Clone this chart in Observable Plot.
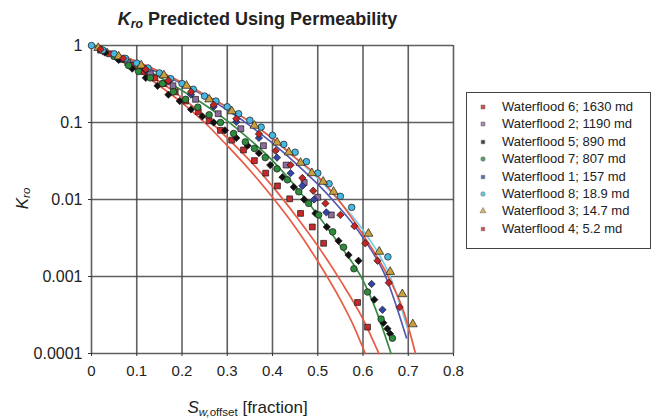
<!DOCTYPE html>
<html><head><meta charset="utf-8">
<script src="https://cdn.jsdelivr.net/npm/d3@7"></script>
<script src="https://cdn.jsdelivr.net/npm/@observablehq/plot@0.6"></script>
<style>
body{margin:0;background:#fff;font-family:"Liberation Sans",Arial,sans-serif;color:#222;}
#wrap{position:relative;width:659px;height:419px;overflow:hidden;background:#fff;}
#chart{position:absolute;left:0;top:0;}
.title{position:absolute;left:0;width:515px;top:10px;text-align:center;font-weight:bold;font-size:18px;line-height:18px;}
.xlab{position:absolute;left:0;width:495px;top:399px;text-align:center;font-size:17px;line-height:17px;}
.ylab{position:absolute;left:-28px;top:190px;width:100px;text-align:center;font-size:17px;line-height:17px;transform:rotate(-90deg);}
sub{font-size:0.68em;vertical-align:-0.25em;line-height:0;}
.legend{position:absolute;left:466px;top:92px;width:183px;height:150px;border:1.5px solid #444;padding-top:5px;box-sizing:content-box;}
.row{height:17.4px;line-height:17.4px;font-size:13px;white-space:nowrap;position:relative;}
.row svg{position:absolute;left:11px;top:4px;}
.row span{position:absolute;left:35px;}
.yax text{font-size:16px;}
</style></head>
<body><div id="wrap">
<div id="chart"></div>
<div class="title"><i>K<sub>ro</sub></i> Predicted Using Permeability</div>
<div class="xlab"><i>S<sub>w,</sub></i><sub>offset</sub> [fraction]</div>
<div class="ylab"><i>K<sub>ro</sub></i></div>
<div class="legend" id="legend"></div>
</div>
<script>
// Axis ticks
const xTicks=[0,0.1,0.2,0.3,0.4,0.5,0.6,0.7,0.8];
const xTickLabels=["0","0.1","0.2","0.3","0.4","0.5","0.6","0.7","0.8"];
const yTicks=[1,0.1,0.01,0.001,0.0001];
const yTickLabels=["1","0.1","0.01","0.001","0.0001"];

// Series (measured points)
const seriesNames=["Waterflood 6; 1630 md","Waterflood 2; 1190 md","Waterflood 5; 890 md","Waterflood 7; 807 md","Waterflood 1; 157 md","Waterflood 8; 18.9 md","Waterflood 3; 14.7 md","Waterflood 4; 5.2 md"];
const seriesColors=["#c8282a","#8c6c9c","#111111","#2e8a3c","#3444a8","#48b8e0","#c8a040","#c42424"];
const seriesSymbols=["square","square","diamond2","circle","diamond2","circle","triangle","diamond2"];

const wf6_x=[0.02,0.04,0.065,0.09,0.115,0.14,0.16,0.185,0.208,0.236,0.26,0.285,0.31,0.336,0.36,0.385,0.411,0.438,0.462,0.488,0.513,0.588,0.61];
const wf6_k=[0.87,0.78,0.66,0.55,0.46,0.38,0.32,0.25,0.19,0.138,0.105,0.079,0.059,0.044,0.032,0.022,0.015,0.0102,0.0066,0.0044,0.0027,0.00046,0.00022];
const wf2_x=[0.03,0.08,0.13,0.18,0.23,0.28,0.33,0.38,0.43,0.47,0.5,0.53];
const wf2_k=[0.83,0.6,0.43,0.3,0.2,0.13,0.083,0.05,0.028,0.0166,0.0107,0.0063];
const wf5_x=[0.03,0.06,0.09,0.12,0.146,0.17,0.195,0.22,0.245,0.27,0.295,0.32,0.345,0.37,0.395,0.422,0.447,0.47,0.495,0.52,0.546,0.568,0.59,0.625,0.645,0.654,0.66];
const wf5_k=[0.81,0.65,0.5,0.38,0.3,0.23,0.19,0.148,0.12,0.1,0.079,0.063,0.05,0.04,0.028,0.0195,0.0145,0.01,0.0066,0.0044,0.0029,0.0019,0.0016,0.0005,0.00025,0.00021,0.00018];
const wf7_x=[0.02,0.05,0.082,0.104,0.13,0.157,0.181,0.208,0.235,0.26,0.285,0.314,0.34,0.36,0.384,0.41,0.433,0.458,0.48,0.502,0.533,0.557,0.58,0.61,0.64,0.665];
const wf7_k=[0.89,0.72,0.55,0.46,0.38,0.32,0.25,0.2,0.158,0.126,0.1,0.072,0.056,0.046,0.035,0.025,0.018,0.0126,0.0089,0.0063,0.0038,0.0024,0.00126,0.00063,0.00028,0.000158];
const wf1_x=[0.02,0.07,0.12,0.17,0.22,0.27,0.32,0.37,0.41,0.44,0.466,0.492,0.519,0.619,0.643];
const wf1_k=[0.89,0.66,0.48,0.34,0.23,0.16,0.102,0.063,0.035,0.022,0.015,0.01,0.0068,0.0008,0.00037];
const wf8_x=[0,0.025,0.05,0.075,0.1,0.125,0.15,0.175,0.2,0.225,0.25,0.275,0.3,0.325,0.35,0.375,0.4,0.425,0.45,0.475,0.5,0.525,0.55,0.575,0.655];
const wf8_k=[1,0.87,0.78,0.68,0.59,0.51,0.44,0.37,0.32,0.27,0.22,0.19,0.16,0.13,0.107,0.087,0.068,0.052,0.041,0.031,0.022,0.016,0.011,0.0079,0.0018];
const wf3_x=[0.015,0.06,0.11,0.16,0.21,0.26,0.31,0.36,0.41,0.436,0.462,0.487,0.512,0.535,0.612,0.636,0.66,0.687,0.71];
const wf3_k=[0.93,0.72,0.55,0.41,0.30,0.20,0.14,0.091,0.055,0.041,0.030,0.022,0.017,0.0126,0.0036,0.0021,0.00115,0.00059,0.00024];
const wf4_x=[0.02,0.07,0.12,0.17,0.22,0.27,0.32,0.37,0.407,0.44,0.466,0.49,0.517,0.55,0.581,0.605,0.632,0.657,0.681];
const wf4_k=[0.89,0.68,0.49,0.35,0.25,0.17,0.112,0.071,0.043,0.028,0.019,0.013,0.0089,0.0063,0.0045,0.0027,0.0016,0.00083,0.0004];

const seriesX=[wf6_x,wf2_x,wf5_x,wf7_x,wf1_x,wf8_x,wf3_x,wf4_x];
const seriesK=[wf6_k,wf2_k,wf5_k,wf7_k,wf1_k,wf8_k,wf3_k,wf4_k];

// Predicted curves
const curveColors=["#e85a44","#e85a44","#3a8c44","#5656b4","#78cce8","#e85a44"];
const c1_x=[0,0.05,0.1,0.15,0.2,0.25,0.3,0.35,0.4,0.45,0.5,0.55,0.58,0.605];
const c1_k=[1,0.71,0.48,0.3,0.18,0.1,0.05,0.024,0.0107,0.0044,0.00158,0.0005,0.000224,0.0001];
const c2_x=[0,0.05,0.1,0.15,0.2,0.25,0.3,0.35,0.4,0.45,0.5,0.55,0.6,0.635];
const c2_k=[1,0.74,0.51,0.34,0.21,0.12,0.063,0.032,0.0148,0.0063,0.0025,0.00089,0.00028,0.0001];
const c3_x=[0,0.05,0.1,0.15,0.2,0.25,0.3,0.35,0.4,0.45,0.5,0.55,0.6,0.63,0.662];
const c3_k=[1,0.76,0.55,0.39,0.26,0.17,0.105,0.06,0.032,0.015,0.0063,0.0025,0.00089,0.00035,0.0001];
const c4_x=[0,0.05,0.1,0.15,0.2,0.25,0.3,0.35,0.4,0.45,0.5,0.532,0.6,0.65,0.696];
const c4_k=[1,0.78,0.59,0.44,0.32,0.22,0.145,0.091,0.054,0.03,0.0158,0.01,0.0032,0.001,0.00016];
const c5_x=[0,0.05,0.1,0.15,0.2,0.25,0.3,0.35,0.4,0.45,0.5,0.54,0.6,0.66,0.7];
const c5_k=[1,0.79,0.62,0.46,0.33,0.23,0.158,0.102,0.062,0.035,0.019,0.0107,0.004,0.001,0.0002];
const c6_x=[0,0.05,0.1,0.15,0.2,0.25,0.3,0.35,0.4,0.45,0.5,0.545,0.6,0.66,0.69,0.716];
const c6_k=[1,0.79,0.62,0.46,0.33,0.23,0.158,0.102,0.062,0.035,0.02,0.01,0.0035,0.00089,0.00035,0.0001];
const curveX=[c1_x,c2_x,c3_x,c4_x,c5_x,c6_x];
const curveK=[c1_k,c2_k,c3_k,c4_k,c5_k,c6_k];

const lineMarks=curveX.map((xs,j)=>Plot.line(xs.map((x,i)=>({x,k:curveK[j][i]})),{x:"x",y:"k",stroke:curveColors[j],strokeWidth:1.7,curve:"monotone-x"}));
const dotMarks=seriesX.map((xs,j)=>Plot.dot(xs.map((x,i)=>({x,k:seriesK[j][i]})),{x:"x",y:"k",symbol:seriesSymbols[j],r:3.3,fill:seriesColors[j],stroke:"#1a1a1a",strokeWidth:0.7}));

const chart=Plot.plot({
  width:659,height:419,
  marginLeft:91,marginRight:206,marginTop:45,marginBottom:66,
  x:{domain:[0,0.8]},
  y:{type:"log",domain:[0.0001,1]},
  style:{fontFamily:"'Liberation Sans',Arial,sans-serif",fontSize:"15px",color:"#222",background:"transparent"},
  marks:[
    Plot.gridX(xTicks,{stroke:"#444",strokeOpacity:0.85,strokeWidth:1.6}),
    Plot.gridY(yTicks,{stroke:"#444",strokeOpacity:0.85,strokeWidth:1.6}),
    Plot.axisX(xTicks,{tickFormat:d=>xTickLabels[xTicks.indexOf(d)],tickSize:3,tickPadding:9,label:null,stroke:"#333"}),
    Plot.axisY(yTicks,{tickFormat:d=>yTickLabels[yTicks.indexOf(d)],tickSize:3,tickPadding:6,label:null,stroke:"#333",fontSize:16}),
    ...lineMarks,
    ...dotMarks
  ]
});
document.getElementById("chart").appendChild(chart);

// Legend
const leg=document.getElementById("legend");
seriesNames.forEach((name,j)=>{
  const row=document.createElement("div");row.className="row";
  const sym=d3.symbol(({square:d3.symbolSquare,circle:d3.symbolCircle,triangle:d3.symbolTriangle,diamond2:d3.symbolSquare2})[seriesSymbols[j]],16)();
  row.innerHTML=`<svg width="10" height="10" viewBox="-5 -5 10 10"><path d="${sym}" fill="${seriesColors[j]}" stroke="#444" stroke-width="0.5" opacity="0.8"/></svg><span>${name}</span>`;
  leg.appendChild(row);
});
</script>
</body></html>
